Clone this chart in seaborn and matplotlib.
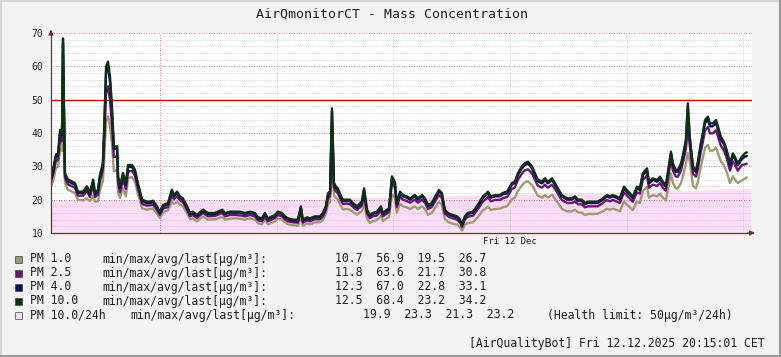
import numpy as np
import pandas as pd
import matplotlib
matplotlib.use("Agg")
import matplotlib.pyplot as plt
from matplotlib.patches import Rectangle
from matplotlib.lines import Line2D
import seaborn as sns

# ---------------- data (minutes since start of window) ----------------
t_min = [0, 6, 15, 22, 28, 34, 37, 43, 52, 65, 74, 83, 99, 111, 120, 130, 136, 145, 151, 160,
         164, 170, 176, 182, 188, 194, 204, 207, 213, 222, 231, 238, 250, 259, 268, 281, 296, 305, 315, 327,
         336, 346, 361, 373, 379, 389, 398, 407, 420, 429, 438, 450, 469, 484, 506, 528, 537, 552, 568, 583,
         598, 614, 629, 639, 651, 660, 669, 682, 691, 700, 713, 722, 731, 747, 762, 771, 777, 790, 799, 814,
         830, 839, 848, 855, 861, 867, 873, 879, 885, 895, 901, 913, 922, 932, 944, 959, 966, 975, 984, 993,
         1006, 1018, 1024, 1037, 1043, 1052, 1061, 1067, 1077, 1086, 1098, 1108, 1123, 1132, 1145, 1154, 1163, 1175, 1188, 1197,
         1206, 1215, 1225, 1240, 1253, 1262, 1268, 1277, 1286, 1302, 1314, 1323, 1333, 1345, 1348, 1357, 1370, 1385, 1394, 1407,
         1413, 1422, 1431, 1441, 1453, 1462, 1472, 1484, 1493, 1502, 1515, 1524, 1533, 1546, 1555, 1564, 1576, 1592, 1607, 1617,
         1626, 1638, 1647, 1657, 1672, 1687, 1703, 1715, 1725, 1734, 1746, 1755, 1768, 1777, 1786, 1795, 1808, 1817, 1826, 1839,
         1845, 1857, 1870, 1879, 1888, 1897, 1903, 1913, 1919, 1928, 1934, 1944, 1950, 1959, 1965, 1971, 1981, 1990, 1996, 2005,
         2011, 2018, 2027, 2033, 2042, 2052, 2058, 2067, 2076, 2085, 2095, 2104, 2110, 2119, 2132, 2141, 2147]

pm10 = [26.9, 28.9, 33.4, 34.0, 41.0, 40.0, 68.4, 28.0, 26.0, 25.4, 25.0, 22.4, 22.4, 24.0, 22.0, 26.0, 22.0, 23.0, 27.4, 31.0,
        41.0, 60.0, 61.4, 57.0, 48.0, 36.0, 36.0, 27.0, 24.0, 28.0, 25.0, 30.4, 30.4, 29.0, 25.0, 20.0, 19.4, 19.4, 19.7, 18.0,
        16.4, 18.4, 19.0, 23.0, 21.4, 22.4, 21.0, 20.4, 18.0, 16.0, 16.4, 15.4, 17.0, 16.0, 16.0, 17.0, 16.0, 16.4, 16.4, 16.4,
        16.0, 16.4, 16.0, 14.7, 14.4, 16.0, 14.4, 15.0, 15.4, 16.4, 16.0, 15.0, 14.4, 14.0, 14.0, 18.0, 14.0, 14.7, 14.4, 15.0,
        15.0, 16.0, 18.0, 22.0, 22.4, 47.4, 25.0, 24.0, 23.4, 21.0, 20.0, 20.0, 20.0, 19.0, 18.0, 19.4, 23.4, 17.0, 15.4, 16.0,
        16.4, 18.0, 16.0, 17.0, 17.4, 27.0, 25.4, 19.0, 22.4, 21.4, 21.0, 20.4, 21.4, 20.4, 21.4, 20.4, 18.4, 19.0, 21.4, 22.9,
        22.0, 17.0, 16.0, 15.4, 15.0, 14.0, 12.5, 15.0, 16.0, 16.4, 18.0, 19.4, 21.0, 22.0, 22.4, 21.0, 21.4, 21.4, 22.0, 22.4,
        23.4, 25.0, 25.4, 28.0, 30.0, 31.0, 31.4, 30.0, 28.0, 26.0, 25.4, 26.4, 25.4, 26.4, 25.0, 23.4, 21.4, 20.4, 20.4, 21.0,
        20.0, 20.0, 19.0, 19.4, 19.4, 19.4, 20.4, 21.4, 21.0, 21.4, 20.9, 20.4, 23.9, 22.9, 21.9, 20.9, 23.9, 23.4, 27.9, 29.4,
        25.4, 26.4, 25.9, 26.9, 25.4, 24.4, 27.9, 34.4, 30.9, 28.9, 28.9, 30.9, 33.4, 37.9, 48.9, 38.9, 29.9, 28.9, 31.4, 36.9,
        39.9, 43.9, 44.9, 42.9, 42.9, 43.9, 41.9, 38.9, 37.4, 34.9, 30.9, 33.9, 32.9, 30.9, 32.9, 33.9, 34.2]

pm4 = [26.4, 28.3, 32.8, 33.4, 40.3, 39.2, 67.0, 27.5, 25.5, 24.9, 24.5, 22.0, 22.0, 23.5, 21.6, 25.4, 21.6, 22.5, 26.8, 30.3,
       40.0, 58.5, 59.6, 55.5, 46.8, 35.2, 35.2, 26.5, 23.5, 27.4, 24.5, 29.8, 29.8, 28.4, 24.5, 19.6, 19.0, 19.0, 19.3, 17.6,
       16.1, 18.0, 18.6, 22.5, 21.0, 21.9, 20.6, 20.0, 17.6, 15.7, 16.1, 15.1, 16.7, 15.7, 15.7, 16.7, 15.7, 16.1, 16.1, 16.1,
       15.7, 16.1, 15.7, 14.4, 14.1, 15.7, 14.1, 14.7, 15.1, 16.1, 15.7, 14.7, 14.1, 13.7, 13.7, 17.6, 13.7, 14.4, 14.1, 14.7,
       14.7, 15.7, 17.6, 21.5, 21.9, 46.6, 24.5, 23.5, 22.9, 20.6, 19.6, 19.6, 19.6, 18.6, 17.6, 19.0, 22.9, 16.7, 15.1, 15.7,
       16.1, 17.6, 15.7, 16.7, 17.0, 26.4, 24.9, 18.6, 21.9, 21.0, 20.6, 20.0, 21.0, 20.0, 21.0, 20.0, 18.0, 18.6, 21.0, 22.4,
       21.6, 16.7, 15.7, 15.1, 14.7, 13.7, 12.3, 14.7, 15.7, 16.1, 17.6, 19.0, 20.6, 21.6, 21.9, 20.6, 21.0, 21.0, 21.6, 21.9,
       22.9, 24.5, 24.9, 27.4, 29.4, 30.4, 30.8, 29.4, 27.4, 25.5, 24.9, 25.9, 24.9, 25.9, 24.5, 22.9, 21.0, 20.0, 20.0, 20.6,
       19.6, 19.6, 18.6, 19.0, 19.0, 19.0, 20.0, 21.0, 20.6, 21.0, 20.5, 20.0, 23.4, 22.4, 21.5, 20.5, 23.4, 22.9, 27.3, 28.8,
       24.9, 25.9, 25.4, 26.4, 24.9, 23.9, 27.3, 33.7, 30.3, 28.3, 28.3, 30.3, 32.7, 37.1, 47.9, 38.1, 29.3, 28.3, 30.8, 36.2,
       39.1, 43.0, 44.0, 42.0, 42.0, 43.0, 41.1, 38.1, 36.7, 34.2, 30.3, 33.2, 32.2, 30.3, 32.2, 32.9, 33.1]

pm25 = [25.5, 27.3, 31.5, 32.0, 38.5, 37.5, 63.6, 26.6, 24.6, 24.0, 23.6, 21.2, 21.2, 22.6, 20.8, 24.4, 20.8, 21.6, 25.6, 28.8,
        37.5, 52.0, 54.0, 50.0, 42.5, 32.8, 33.0, 25.0, 22.2, 26.0, 23.2, 28.5, 28.6, 27.2, 23.4, 18.7, 18.2, 18.3, 18.5, 16.9,
        15.4, 17.3, 17.8, 21.5, 20.1, 21.0, 19.8, 19.2, 16.9, 15.0, 15.4, 14.5, 16.0, 15.0, 15.1, 16.0, 15.0, 15.4, 15.4, 15.3,
        15.0, 15.4, 15.0, 13.8, 13.5, 15.0, 13.5, 14.1, 14.5, 15.4, 15.0, 14.1, 13.5, 13.2, 13.1, 16.8, 13.1, 13.8, 13.5, 14.1,
        14.1, 15.0, 16.9, 20.6, 21.0, 43.5, 23.4, 22.5, 21.9, 19.7, 18.7, 18.8, 18.7, 17.8, 16.9, 18.2, 21.6, 15.9, 14.4, 15.0,
        15.3, 16.8, 15.0, 15.9, 16.3, 25.0, 23.6, 17.8, 20.9, 20.0, 19.6, 19.1, 20.0, 19.1, 20.0, 19.1, 17.2, 17.8, 20.0, 21.4,
        20.6, 15.9, 15.0, 14.4, 14.0, 13.1, 11.8, 14.0, 14.9, 15.2, 16.7, 18.0, 19.5, 20.4, 20.8, 19.5, 19.9, 19.9, 20.4, 20.8,
        21.7, 23.2, 23.6, 26.0, 27.8, 28.8, 29.1, 27.9, 26.0, 24.2, 23.6, 24.5, 23.6, 24.5, 23.2, 21.8, 19.9, 19.0, 19.0, 19.5,
        18.6, 18.6, 17.7, 18.0, 18.0, 18.0, 19.0, 19.9, 19.5, 19.9, 19.4, 19.0, 22.2, 21.3, 20.4, 19.4, 22.2, 21.8, 25.9, 27.3,
        23.6, 24.5, 24.1, 25.0, 23.6, 22.7, 25.9, 32.0, 28.7, 26.9, 26.9, 28.7, 31.1, 35.2, 42.0, 36.2, 27.8, 26.9, 29.2, 34.3,
        37.1, 40.8, 41.8, 39.9, 39.9, 40.8, 39.0, 36.2, 34.8, 32.5, 28.7, 31.5, 30.6, 28.7, 30.4, 30.6, 30.8]

pm1 = [24.0, 25.5, 29.4, 30.0, 35.5, 34.5, 56.9, 25.0, 23.0, 22.4, 22.0, 20.0, 19.8, 20.4, 19.6, 21.0, 19.4, 19.5, 22.8, 25.6,
       32.0, 43.5, 45.0, 42.0, 37.0, 28.5, 29.0, 22.0, 20.5, 23.5, 21.0, 26.5, 26.8, 25.5, 21.8, 17.4, 17.0, 17.2, 17.3, 15.8,
       14.5, 16.2, 16.8, 19.5, 18.7, 19.4, 18.5, 18.0, 15.9, 14.1, 14.4, 13.5, 14.9, 14.0, 14.1, 14.8, 14.0, 14.3, 14.4, 14.3,
       14.0, 14.4, 14.0, 12.9, 12.6, 14.0, 12.6, 13.1, 13.5, 14.4, 14.0, 13.2, 12.6, 12.3, 12.2, 15.0, 12.2, 12.9, 12.6, 13.2,
       13.2, 14.0, 15.7, 18.8, 19.3, 37.0, 21.2, 20.6, 20.0, 18.0, 17.1, 17.2, 17.0, 16.3, 15.5, 16.6, 18.9, 14.4, 13.0, 13.5,
       13.9, 15.1, 13.6, 14.4, 14.8, 21.5, 20.8, 16.1, 18.8, 18.0, 17.7, 17.2, 18.0, 17.2, 18.0, 17.1, 15.5, 16.0, 18.0, 19.3,
       18.5, 14.2, 13.3, 12.8, 12.5, 11.7, 10.7, 12.4, 13.0, 13.2, 14.4, 15.6, 16.8, 17.6, 17.9, 16.9, 17.2, 17.3, 17.7, 18.0,
       18.8, 20.1, 20.6, 22.6, 24.3, 25.2, 25.5, 24.4, 22.8, 21.2, 20.6, 21.4, 20.6, 21.5, 20.3, 19.0, 17.3, 16.5, 16.5, 17.0,
       16.2, 16.1, 15.4, 15.7, 15.7, 15.8, 16.5, 17.3, 17.0, 17.3, 16.9, 16.5, 19.4, 18.5, 17.7, 16.9, 19.4, 19.0, 22.6, 23.8,
       20.6, 21.4, 21.0, 21.8, 20.6, 19.8, 22.6, 27.9, 25.0, 23.4, 23.4, 25.0, 27.1, 30.7, 34.0, 31.5, 24.2, 23.4, 25.4, 29.9,
       32.3, 35.6, 36.4, 34.7, 34.7, 35.6, 33.9, 31.5, 30.3, 28.3, 25.0, 27.0, 26.0, 25.0, 25.8, 26.3, 26.7]

avg24_t = [0, 336, 614, 861, 1015, 1138, 1293, 1447, 1570, 1725, 1848, 2002, 2064, 2126, 2160]
avg24 = [19.9, 19.9, 20.0, 20.3, 20.7, 21.0, 21.3, 21.6, 22.0, 21.9, 22.3, 22.9, 23.2, 23.3, 23.2]

series_names = ["PM 1.0", "PM 2.5", "PM 4.0", "PM 10.0"]
series_vals = [pm1, pm25, pm4, pm10]
legend_names = ["PM 1.0", "PM 2.5", "PM 4.0", "PM 10.0", "PM 10.0/24h"]
legend_stats = ["10.7  56.9  19.5  26.7", "11.8  63.6  21.7  30.8", "12.3  67.0  22.8  33.1",
                "12.5  68.4  23.2  34.2", "19.9  23.3  21.3  23.2"]
title = "AirQmonitorCT - Mass Concentration"
x_label = "Fri 12 Dec"
health_note = "(Health limit: 50µg/m³/24h)"
footer = "[AirQualityBot] Fri 12.12.2025 20:15:01 CET"
unit_text = "min/max/avg/last[µg/m³]:"

colors = {"PM 1.0": "#9e9a74", "PM 2.5": "#6e146e", "PM 4.0": "#0c0c62",
          "PM 10.0": "#0e3014", "PM 10.0/24h": "#fddcf8"}

# ---------------- figure ----------------
sns.set_style("white")
plt.rcParams["font.family"] = ["DejaVu Sans Mono", "DejaVu Sans"]

W, H = 781, 357
fig = plt.figure(figsize=(W / 100, H / 100), dpi=100)
fig.patch.set_facecolor("#f3f3f3")

def fx(px):
    return px / W

def fy(py):
    return 1 - py / H

ax = fig.add_axes([fx(51), fy(233), fx(701), 200 / H])
ax.set_facecolor("white")

x_end = 2163
ax.set_xlim(0, x_end)
ax.set_ylim(10, 70)

# 24h average area
ax.fill_between(avg24_t, avg24, 0, color=colors["PM 10.0/24h"], linewidth=0, zorder=1, step=None)

# grid
for v in np.arange(12, 70, 2):
    if v % 10 == 0:
        continue
    ax.axhline(v, color="#cfcfcf", lw=0.6, ls=(0, (1, 1.2)), zorder=2)
for v in [20, 30, 40, 60, 70]:
    ax.axhline(v, color="#d9534f", lw=0.6, ls=(0, (1, 2)), zorder=2)
for v in [696, 1056, 1416, 1776, 2136]:
    ax.axvline(v, color="#c8c8c8", lw=0.6, ls=(0, (1, 1.5)), zorder=2)
ax.axvline(336, color="#d9534f", lw=0.6, ls=(0, (1, 2)), zorder=2)
ax.axhline(50, color="#cc0000", lw=1.0, zorder=3)

# lines
frames = []
for name, vals in zip(series_names, series_vals):
    frames.append(pd.DataFrame({"t": t_min, "v": vals, "series": name}))
df = pd.concat(frames, ignore_index=True)
sns.lineplot(data=df, x="t", y="v", hue="series", hue_order=series_names,
             palette=colors, estimator=None, sort=False, legend=False,
             linewidth=1.7, ax=ax, zorder=4)

# axes styling
for s in ["top", "right"]:
    ax.spines[s].set_visible(False)
for s in ["left", "bottom"]:
    ax.spines[s].set_color("#7a2a2a")
    ax.spines[s].set_linewidth(0.9)
    ax.spines[s].set_zorder(5)
ax.set_yticks(range(10, 71, 10))
ax.set_yticklabels([str(v) for v in range(10, 71, 10)], fontsize=7, color="#202020")
ax.set_xticks([1416])
ax.set_xticklabels([x_label], fontsize=6.5, color="#202020")
ax.tick_params(axis="y", direction="inout", length=5, width=0.7, color="#808080", pad=3)
ax.tick_params(axis="x", length=0, pad=3)
ax.set_xlabel("")
ax.set_ylabel("")

# arrows
ax.annotate("", xy=(1.008, 0), xytext=(0.99, 0), xycoords="axes fraction",
            arrowprops=dict(arrowstyle="-|>", color="#7a2a2a", lw=0.9, mutation_scale=7),
            annotation_clip=False)
ax.annotate("", xy=(0, 1.03), xytext=(0, 0.99), xycoords="axes fraction",
            arrowprops=dict(arrowstyle="-|>", color="#7a2a2a", lw=0.9, mutation_scale=7),
            annotation_clip=False)

# title
fig.text(fx(392), fy(14), title, ha="center", va="center", fontsize=9.5, color="#202020")

# legend
rows_y = [259, 273, 287, 301, 315]
for i, (name, stat) in enumerate(zip(legend_names, legend_stats)):
    y = rows_y[i]
    fig.patches.append(Rectangle((fx(15), fy(y + 3.5)), fx(7), 7 / H, transform=fig.transFigure,
                                 facecolor=colors[name], edgecolor="#404040", lw=0.5))
    fig.text(fx(30), fy(y), name, ha="left", va="center", fontsize=8.3, color="#202020")
    ux = 102 if i < 4 else 130
    fig.text(fx(ux), fy(y), unit_text, ha="left", va="center", fontsize=8.3, color="#202020")
    sx = 335 if i < 4 else 363
    fig.text(fx(sx), fy(y), stat, ha="left", va="center", fontsize=8.3, color="#202020")
fig.text(fx(547), fy(rows_y[4]), health_note, ha="left", va="center", fontsize=8.3, color="#202020")
fig.text(fx(765), fy(343), footer, ha="right", va="center", fontsize=8.3, color="#202020")

# frame
fig.add_artist(Line2D([0, 1], [fy(1), fy(1)], transform=fig.transFigure, color="#d6d6d6", lw=1.5))
fig.add_artist(Line2D([fx(1), fx(1)], [0, 1], transform=fig.transFigure, color="#d6d6d6", lw=1.5))
fig.add_artist(Line2D([0, 1], [fy(356), fy(356)], transform=fig.transFigure, color="#9a9a9a", lw=2.2))
fig.add_artist(Line2D([fx(780), fx(780)], [0, 1], transform=fig.transFigure, color="#9a9a9a", lw=2.2))

fig.savefig("out.png", dpi=100, facecolor=fig.get_facecolor())
